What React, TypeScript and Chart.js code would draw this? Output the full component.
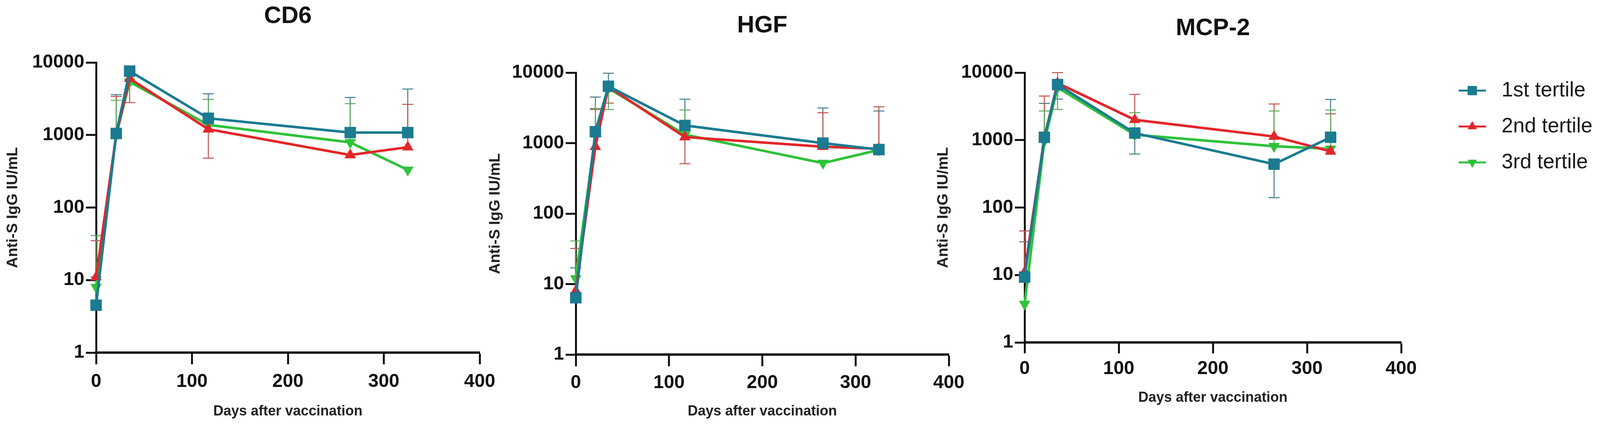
import React, { useEffect, useRef } from 'react';
import { Chart, registerables } from 'chart.js';
import { drawPoint } from 'chart.js/helpers';

Chart.register(...registerables);

// ---------- data ----------
const days = [0, 21, 35, 117, 265, 325];
const seriesLabels = ['1st tertile', '2nd tertile', '3rd tertile'];
const panelTitles = ['CD6', 'HGF', 'MCP-2'];
const xTicks = [0, 100, 200, 300, 400];
const yTicks = [1, 10, 100, 1000, 10000];
const xAxisTitle = 'Days after vaccination';
const yAxisTitle = 'Anti-S IgG IU/mL';

// CD6
const cd6First = [4.5, 1050, 7600, 1700, 1080, 1080];
const cd6Second = [11, 1000, 6000, 1200, 530, 680];
const cd6Third = [8, 1000, 5400, 1380, 790, 330];
const cd6FirstHi = [11, 3600, null, 3700, 3300, 4300];
const cd6SecondHi = [35, 3400, null, null, null, 2650];
const cd6ThirdHi = [41, 3000, null, 3100, 2700, null];
const cd6FirstLo = [null, null, null, null, null, null];
const cd6SecondLo = [null, null, 2800, 480, null, null];
const cd6ThirdLo = [null, null, null, null, null, null];

// HGF
const hgfFirst = [6.4, 1450, 6400, 1780, 1000, 810];
const hgfSecond = [8, 890, 6300, 1220, 890, 830];
const hgfThird = [12, 1300, 6000, 1320, 520, 800];
const hgfFirstHi = [17, 4500, 9800, 4200, 3150, 2860];
const hgfSecondHi = [32, 3000, null, null, 2700, 3270];
const hgfThirdHi = [41, 3100, null, 2950, null, null];
const hgfFirstLo = [null, null, null, null, null, null];
const hgfSecondLo = [null, null, 3700, 510, null, null];
const hgfThirdLo = [null, null, 3000, null, null, null];

// MCP-2
const mcpFirst = [9.3, 1100, 6650, 1270, 440, 1100];
const mcpSecond = [11, 1100, 7000, 2000, 1130, 680];
const mcpThird = [3.7, 960, 6000, 1200, 810, 740];
const mcpFirstHi = [31, 3500, null, null, null, 4000];
const mcpSecondHi = [45, 4500, 10000, 4750, 3430, 2450];
const mcpThirdHi = [null, 2700, null, 2550, 2700, 2790];
const mcpFirstLo = [null, null, 4050, 620, 140, null];
const mcpSecondLo = [null, null, null, null, null, null];
const mcpThirdLo = [null, null, 2850, null, null, null];

// ---------- styles / layout ----------
const FONT = "'Liberation Sans', Arial, Helvetica, sans-serif";
const PAGE_W = 4096;
const PAGE_H = 1091;
const AXIS_COLOR = '#111111';

const seriesStyles = [
  { color: '#1b7b91', errColor: '#3d7d8a', pointStyle: 'rect', radius: 20, rotation: 0 },
  { color: '#e3262a', errColor: '#c0504c', pointStyle: 'triangle', radius: 16, rotation: 0 },
  { color: '#2fc23b', errColor: '#5aa95d', pointStyle: 'triangle', radius: 16, rotation: 180 },
];

const TITLE_SIZE = 61;
const TICK_SIZE = 48;
const XTITLE_SIZE = 36;
const YTITLE_SIZE = 39;
const LEGEND_SIZE = 53;
const LH = 1.2;

const panelLayouts = [
  { canvasLeft: 0, canvasWidth: 1300, left: 246, right: 1228, top: 160, bottom: 903, titleY: 42, xTitleY: 1054, xTickY: 978, yTitleX: 33, xTickLen: 30, yTickLen: 26, legend: false },
  { canvasLeft: 1234, canvasWidth: 1300, left: 1474, right: 2429, top: 186, bottom: 908, titleY: 66, xTitleY: 1054, xTickY: 981, yTitleX: 1268, xTickLen: 30, yTickLen: 26, legend: false },
  { canvasLeft: 2380, canvasWidth: PAGE_W - 2380, left: 2623, right: 3587, top: 186, bottom: 877, titleY: 73, xTitleY: 1019, xTickY: 945, yTitleX: 2415, xTickLen: 28, yTickLen: 25, legend: true },
];

const panelSeries = [
  [cd6First, cd6Second, cd6Third],
  [hgfFirst, hgfSecond, hgfThird],
  [mcpFirst, mcpSecond, mcpThird],
];
const panelHi = [
  [cd6FirstHi, cd6SecondHi, cd6ThirdHi],
  [hgfFirstHi, hgfSecondHi, hgfThirdHi],
  [mcpFirstHi, mcpSecondHi, mcpThirdHi],
];
const panelLo = [
  [cd6FirstLo, cd6SecondLo, cd6ThirdLo],
  [hgfFirstLo, hgfSecondLo, hgfThirdLo],
  [mcpFirstLo, mcpSecondLo, mcpThirdLo],
];

// ---------- plugins ----------
const errorBarPlugin = {
  id: 'errorBars',
  beforeDatasetsDraw(chart: any) {
    const ctx = chart.ctx;
    const xs = chart.scales.x;
    const ys = chart.scales.y;
    const cap = 14;
    ctx.save();
    chart.data.datasets.forEach((ds: any) => {
      ctx.strokeStyle = ds.errColor;
      ctx.lineWidth = 2.5;
      ds.data.forEach((pt: any, i: number) => {
        const x = xs.getPixelForValue(pt.x);
        const y0 = ys.getPixelForValue(pt.y);
        const ends = [ds.errHi ? ds.errHi[i] : null, ds.errLo ? ds.errLo[i] : null];
        ends.forEach((v) => {
          if (v == null) return;
          const y = ys.getPixelForValue(v);
          ctx.beginPath();
          ctx.moveTo(x, y0);
          ctx.lineTo(x, y);
          ctx.moveTo(x - cap, y);
          ctx.lineTo(x + cap, y);
          ctx.stroke();
        });
      });
    });
    ctx.restore();
  },
};

const sideLegendPlugin = {
  id: 'sideLegend',
  afterDraw(chart: any) {
    const ctx = chart.ctx;
    const area = chart.chartArea;
    const x1 = area.right + 147;
    const x2 = area.right + 217;
    const mx = area.right + 182;
    const tx = area.right + 257;
    ctx.save();
    chart.data.datasets.forEach((ds: any, i: number) => {
      const y = area.top + 46 + i * 92;
      ctx.strokeStyle = ds.borderColor;
      ctx.lineWidth = 5;
      ctx.beginPath();
      ctx.moveTo(x1, y);
      ctx.lineTo(x2, y);
      ctx.stroke();
      ctx.fillStyle = ds.backgroundColor;
      ctx.strokeStyle = ds.borderColor;
      ctx.lineWidth = 1;
      drawPoint(ctx, { pointStyle: ds.pointStyle, rotation: ds.pointRotation, radius: ds.pointStyle === 'rect' ? 16 : 13, borderWidth: 1 }, mx, y);
      ctx.fillStyle = '#1a1a1a';
      ctx.font = `normal ${LEGEND_SIZE}px ${FONT}`;
      ctx.textAlign = 'left';
      ctx.textBaseline = 'middle';
      ctx.fillText(ds.label, tx, y);
    });
    ctx.restore();
  },
};

function buildConfig(idx: number): any {
  const L = panelLayouts[idx];
  const canvasRight = L.canvasLeft + L.canvasWidth;
  const titleLH = TITLE_SIZE * LH;
  const tickLH = TICK_SIZE * LH;
  const xtLH = XTITLE_SIZE * LH;
  const ytLH = YTITLE_SIZE * LH;

  const datasets = seriesLabels.map((label, s) => {
    const st = seriesStyles[s];
    return {
      label,
      data: days.map((d, i) => ({ x: d, y: panelSeries[idx][s][i] })),
      errHi: panelHi[idx][s],
      errLo: panelLo[idx][s],
      errColor: st.errColor,
      borderColor: st.color,
      backgroundColor: st.color,
      borderWidth: 6.5,
      pointStyle: st.pointStyle,
      pointRotation: st.rotation,
      pointRadius: st.radius,
      pointHoverRadius: st.radius,
      pointBorderWidth: 1,
      pointBorderColor: st.color,
      pointBackgroundColor: st.color,
      tension: 0,
      clip: false,
    };
  });

  return {
    type: 'line',
    data: { datasets },
    plugins: L.legend ? [errorBarPlugin, sideLegendPlugin] : [errorBarPlugin],
    options: {
      animation: false,
      responsive: false,
      maintainAspectRatio: false,
      events: [],
      layout: { padding: { left: 0, right: canvasRight - L.right, top: 0, bottom: 0 } },
      plugins: {
        legend: { display: false },
        tooltip: { enabled: false },
        title: {
          display: true,
          text: panelTitles[idx],
          fullSize: false,
          color: AXIS_COLOR,
          font: { family: FONT, size: TITLE_SIZE, weight: 'bold', lineHeight: LH },
          padding: { top: L.titleY - titleLH / 2, bottom: L.top - L.titleY - titleLH / 2 },
        },
      },
      scales: {
        x: {
          type: 'linear',
          position: 'bottom',
          min: 0,
          max: 400,
          afterBuildTicks: (scale: any) => {
            scale.ticks = xTicks.map((v) => ({ value: v }));
          },
          afterFit: (scale: any) => {
            scale.height = PAGE_H - L.bottom;
          },
          ticks: {
            color: AXIS_COLOR,
            font: { family: FONT, size: TICK_SIZE, weight: 'bold', lineHeight: LH },
            padding: L.xTickY - L.bottom - L.xTickLen - tickLH / 2,
            maxRotation: 0,
            autoSkip: false,
            callback: (v: any) => String(v),
          },
          grid: { drawOnChartArea: false, drawTicks: true, tickLength: L.xTickLen, tickWidth: 5, tickColor: AXIS_COLOR },
          border: { display: true, color: AXIS_COLOR, width: 6 },
          title: {
            display: true,
            text: xAxisTitle,
            color: '#222222',
            font: { family: FONT, size: XTITLE_SIZE, weight: 'bold', lineHeight: LH },
            padding: { top: 0, bottom: PAGE_H - L.xTitleY - xtLH / 2 },
          },
        },
        y: {
          type: 'logarithmic',
          position: 'left',
          min: 1,
          max: 10000,
          afterBuildTicks: (scale: any) => {
            scale.ticks = yTicks.map((v) => ({ value: v }));
          },
          afterFit: (scale: any) => {
            scale.width = L.left - L.canvasLeft;
          },
          ticks: {
            color: AXIS_COLOR,
            font: { family: FONT, size: TICK_SIZE, weight: 'bold', lineHeight: LH },
            padding: 4,
            autoSkip: false,
            callback: (v: any) => String(v),
          },
          grid: { drawOnChartArea: false, drawTicks: true, tickLength: L.yTickLen, tickWidth: 5, tickColor: AXIS_COLOR },
          border: { display: true, color: AXIS_COLOR, width: 5 },
          title: {
            display: true,
            text: yAxisTitle,
            color: '#222222',
            font: { family: FONT, size: YTITLE_SIZE, weight: 'bold', lineHeight: LH },
            padding: { top: L.yTitleX - L.canvasLeft - ytLH / 2, bottom: 0 },
          },
        },
      },
    },
  };
}

function Panel({ idx }: { idx: number }) {
  const ref = useRef<HTMLCanvasElement | null>(null);
  const L = panelLayouts[idx];
  useEffect(() => {
    if (!ref.current) return;
    const chart = new Chart(ref.current, buildConfig(idx));
    return () => chart.destroy();
  }, [idx]);
  return (
    <canvas
      ref={ref}
      width={L.canvasWidth}
      height={PAGE_H}
      style={{ position: 'absolute', left: L.canvasLeft, top: 0, width: L.canvasWidth, height: PAGE_H }}
    />
  );
}

export default function App() {
  return (
    <div style={{ position: 'absolute', left: 0, top: 0, width: PAGE_W, height: PAGE_H, background: '#ffffff', overflow: 'hidden' }}>
      {panelLayouts.map((_, i) => (
        <Panel key={i} idx={i} />
      ))}
    </div>
  );
}
